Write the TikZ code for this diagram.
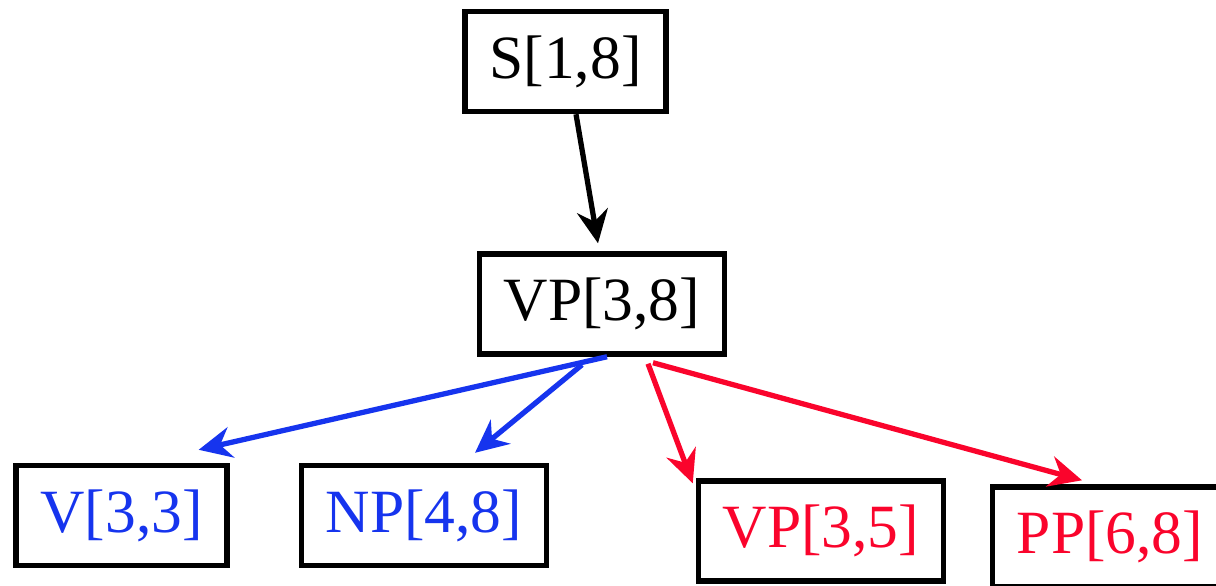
\documentclass[tikz,border=0pt]{standalone}
\usepackage{fontspec}
\setmainfont{Liberation Serif}
\usepackage{tikz}
\usetikzlibrary{arrows.meta}

\definecolor{spanblue}{RGB}{22,52,238}
\definecolor{spanred}{RGB}{250,4,44}

\begin{document}
\begin{tikzpicture}[line cap=butt, line join=miter, >={Stealth[length=0.33cm,width=0.31cm,inset=0.11cm]},
    spanbox/.style={draw, line width=1.55pt, inner xsep=0.243cm, minimum height=1.0cm,
      font=\fontsize{17.5}{21}\selectfont},
    edge/.style={->, line width=1.5pt}]
    \useasboundingbox (0,0) rectangle (12.16,-5.85);

    \node[spanbox] (s) at (5.655,-0.615) {S[1,8]};
    \node[spanbox] (vp) at (6.02,-3.04) {VP[3,8]};
    \node[spanbox, text=spanblue] (v) at (1.215,-5.155) {V[3,3]};
    \node[spanbox, text=spanblue] (np) at (4.24,-5.155) {NP[4,8]};
    \node[spanbox, text=spanred] (vpl) at (8.21,-5.31) {VP[3,5]};
    \node[spanbox, text=spanred] (pp) at (11.10,-5.37) {PP[6,8]};

    \draw[edge] ([xshift=0.105cm]s.south) -- ([shift={(-0.04,0.08)}]vp.north);

    \draw[edge, spanblue] ([xshift=0.05cm]vp.south) -- ([shift={(-0.31,0.13)}]v.north east);
    \draw[edge, spanblue] ([shift={(-0.2,-0.08)}]vp.south) -- ([shift={(0.51,0.10)}]np.north);

    \draw[edge, spanred] ([shift={(0.46,-0.07)}]vp.south) -- ([shift={(-0.03,-0.05)}]vpl.north west);
    \draw[edge, spanred] ([shift={(0.51,-0.06)}]vp.south) -- ([shift={(-0.28,0.04)}]pp.north);
\end{tikzpicture}
\end{document}
